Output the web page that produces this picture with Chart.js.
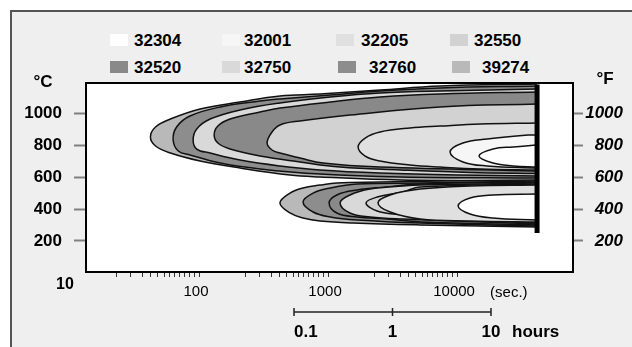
<!DOCTYPE html>
<html>
<head>
<meta charset="utf-8">
<script src="https://cdn.jsdelivr.net/npm/chart.js@4.4.1/dist/chart.umd.min.js"></script>
<style>
  html, body { margin: 0; padding: 0; background: #fff; }
  body { width: 632px; height: 347px; position: relative; overflow: hidden; font-family: 'Liberation Sans', Arial, sans-serif; }
  #frame { position: absolute; left: 10px; top: 10px; width: 640px; height: 360px; background: #efefef; border-left: 2px solid #555; border-top: 2px solid #555; }
  #wrap { position: absolute; left: 0; top: 0; width: 632px; height: 347px; }
  .sw { position: absolute; width: 18px; height: 12px; }
  .lg { position: absolute; font-weight: bold; font-size: 17px; line-height: 17px; color: #000; }
</style>
</head>
<body>
<div id="frame"></div>
<div id="legend"></div>
<div id="wrap"><canvas id="ttt"></canvas></div>
<script>
// steel grades and the grey used for each
const grades = ['32304', '32001', '32205', '32550', '32520', '32750', '32760', '39274'];
const gradeColors = ['#ffffff', '#f6f6f6', '#e0e0e0', '#d2d2d2', '#898989', '#d9d9d9', '#8d8d8d', '#b9b9b9'];

const tempTicks = [200, 400, 600, 800, 1000];   // same marks on the °C and °F side
const secTicks = [100, 1000, 10000];
const hourTicks = ['0.1', '1', '10'];

// C-curves, [time in s, temperature in °C], from the top end round the nose to the bottom end
const up39274 = [[41700,1184],[7380,1171],[2530,1146],[866,1121],[424,1109],[208,1071],[102,1027],[60,964],[46,914],[42,851],[46,795],[60,751],[102,701],[208,657],[507,613],[866,601],[3620,582],[41700,576]];
const up32760 = [[41700,1171],[7380,1159],[2530,1140],[1040,1115],[424,1090],[297,1077],[146,1040],[85,983],[67,914],[63,833],[69,764],[85,739],[146,688],[297,651],[866,619],[3620,601],[41700,594]];
const up32750 = [[41700,1152],[7380,1140],[2530,1127],[1040,1102],[424,1065],[208,1021],[122,964],[96,902],[90,833],[96,776],[122,751],[208,707],[424,670],[866,645],[2530,626],[10500,613],[41700,607]];
const up32520 = [[41700,1134],[7380,1121],[2530,1102],[1040,1071],[424,1033],[297,1008],[174,964],[140,920],[131,864],[140,814],[174,776],[297,732],[606,695],[1240,663],[3620,645],[12600,629],[41700,622]];
const up32550 = [[41700,1058],[7380,1040],[1480,989],[606,952],[424,927],[368,883],[337,814],[368,770],[424,751],[606,720],[915,688],[2530,663],[41700,638]];
const up32205 = [[41700,939],[15100,933],[7380,920],[4320,908],[2530,883],[1940,845],[1710,789],[1940,732],[2530,701],[4320,676],[7380,663],[15100,651],[41700,645]];
const up32001 = [[41700,864],[35500,864],[17100,839],[11100,814],[8830,757],[11100,695],[17100,670],[41700,657]];
const up32304 = [[41700,801],[27200,789],[19000,776],[14800,732],[19000,688],[27200,670],[41700,663]];

const lo39274 = [[41700,582],[7380,576],[2530,569],[1170,563],[866,550],[640,532],[507,500],[424,438],[507,375],[640,344],[866,325],[1560,312],[5170,300],[41700,287]];
const lo32760 = [[41700,576],[5170,563],[1680,557],[1040,532],[766,500],[640,444],[766,381],[1040,350],[1680,331],[5170,312],[41700,293]];
const lo32520 = [[41700,569],[5170,557],[2870,538],[1680,519],[1170,488],[1020,438],[1170,375],[1680,350],[2870,337],[5170,319],[41700,300]];
const lo32750 = [[41700,563],[5170,550],[3810,544],[2120,525],[1480,488],[1240,438],[1480,375],[2120,350],[3810,337],[41700,306]];
const lo32550 = [[41700,557],[5170,538],[3810,507],[2400,475],[1970,438],[2400,388],[3810,362],[5170,344],[41700,312]];
const lo32205 = [[41700,550],[12600,544],[5170,525],[3030,488],[2440,438],[3030,381],[5170,337],[12600,325],[41700,319]];
const lo32304 = [[41700,494],[19000,488],[12600,469],[10200,419],[12600,369],[19000,344],[41700,331]];

// end of the test (thick bar)
const endLine = [[41700,1180],[41700,250]];

const curves = [
  ['39274', up39274], ['32760', up32760], ['32750', up32750], ['32520', up32520],
  ['32550', up32550], ['32205', up32205], ['32001', up32001], ['32304', up32304],
  ['39274', lo39274], ['32760', lo32760], ['32520', lo32520], ['32750', lo32750],
  ['32550', lo32550], ['32205', lo32205], ['32304', lo32304]
];

// minor marks inside each decade of the time axis (as drawn on the original)
const decadeMarks = [0.36, 0.47, 0.56, 0.62, 0.675, 0.73, 0.77, 0.81, 0.85, 0.89, 0.925, 0.965, 1];
const timeMarks = [];
[1, 2, 3].forEach(d => decadeMarks.forEach(f => timeMarks.push(Math.pow(10, d + f))));

// legend layout: swatch x, text x, row centre y
const legendSlots = [[110,134,40],[222,244,40],[336,361,40],[450,474,40],
                     [110,134,67],[222,244,67],[338,369,67],[452,482,67]];
const legend = document.getElementById('legend');
grades.forEach((g, i) => {
  const [sx, tx, cy] = legendSlots[i];
  const sw = document.createElement('div');
  sw.className = 'sw';
  sw.style.left = sx + 'px';
  sw.style.top = (cy - 6) + 'px';
  sw.style.background = gradeColors[i];
  const t = document.createElement('div');
  t.className = 'lg';
  t.style.left = tx + 'px';
  t.style.top = (cy - 8) + 'px';
  t.textContent = g;
  legend.appendChild(sw);
  legend.appendChild(t);
});

const datasets = curves.map(([g, pts], i) => ({
  label: g,
  data: pts.map(([x, y]) => ({x, y})),
  showLine: true,
  fill: 'shape',
  backgroundColor: gradeColors[grades.indexOf(g)],
  borderColor: '#111',
  borderWidth: 1.5,
  pointRadius: 0,
  tension: 0.4,
  order: curves.length + 1 - i
}));
datasets.push({
  label: 'end',
  data: endLine.map(([x, y]) => ({x, y})),
  showLine: true,
  fill: false,
  borderColor: '#000',
  borderWidth: 5,
  pointRadius: 0,
  order: 0
});

const frameAndNotes = {
  id: 'frameAndNotes',
  beforeDraw(chart) {
    const {ctx, chartArea: a} = chart;
    ctx.save();
    ctx.fillStyle = '#fff';
    ctx.fillRect(a.left, a.top, a.width, a.height);
    ctx.restore();
  },
  afterDraw(chart) {
    const {ctx, chartArea: a} = chart;
    const xs = chart.scales.x;
    ctx.save();
    ctx.strokeStyle = '#000';
    ctx.lineWidth = 2;
    ctx.strokeRect(a.left, a.top, a.width, a.height);

    ctx.fillStyle = '#000';
    ctx.textBaseline = 'middle';
    ctx.textAlign = 'center';
    ctx.font = 'bold 17px "Liberation Sans"';
    ctx.fillText('°C', a.left - 43, a.top - 1);
    ctx.fillText('°F', a.right + 32, a.top - 4);

    ctx.font = 'bold 16px "Liberation Sans"';
    ctx.fillText('10', xs.getPixelForValue(10) - 5, a.bottom + 13);

    ctx.textAlign = 'left';
    ctx.font = '15px "Liberation Sans"';
    ctx.fillText('(sec.)', xs.getPixelForValue(10000) + 33, a.bottom + 21);

    // hours bar
    const hx0 = a.left + 208, hstep = 98.5, hy = a.bottom + 40;
    ctx.strokeStyle = '#222';
    ctx.lineWidth = 1.5;
    ctx.beginPath();
    ctx.moveTo(hx0, hy);
    ctx.lineTo(hx0 + hstep * (hourTicks.length - 1), hy);
    hourTicks.forEach((h, i) => {
      ctx.moveTo(hx0 + hstep * i, hy - 4);
      ctx.lineTo(hx0 + hstep * i, hy + 4);
    });
    ctx.stroke();
    ctx.font = 'bold 17px "Liberation Sans"';
    hourTicks.forEach((h, i) => {
      ctx.textAlign = i === 0 ? 'left' : 'center';
      ctx.fillText(h, hx0 + hstep * i, hy + 20);
    });
    ctx.textAlign = 'left';
    ctx.fillText('hours', hx0 + hstep * 2 + 21, hy + 20);
    ctx.restore();
  }
};

const tempAxis = (pos) => ({
  type: 'linear',
  position: pos,
  min: 5,
  max: 1190,
  bounds: 'data',
  afterFit: s => { s.width = pos === 'left' ? 86 : 50; },
  afterBuildTicks: s => { s.ticks = tempTicks.map(v => ({value: v})); },
  grid: { drawOnChartArea: false, tickLength: pos === 'left' ? 12 : 10, tickColor: '#808080', tickWidth: 2 },
  border: { display: false },
  ticks: pos === 'left'
    ? { padding: 12, color: '#000', font: { size: 17, weight: 'bold' }, callback: v => String(v) }
    : { padding: 1, crossAlign: 'far', color: '#000', font: { size: 17, weight: 'bold', style: 'italic' }, callback: v => String(v) }
});

Chart.defaults.font.family = '"Liberation Sans", Arial, sans-serif';

new Chart(document.getElementById('ttt'), {
  type: 'scatter',
  data: { datasets },
  options: {
    responsive: true,
    maintainAspectRatio: false,
    animation: false,
    events: [],
    layout: { padding: { top: 83, left: 0, right: 9, bottom: 0 } },
    scales: {
      x: {
        type: 'logarithmic',
        min: 13.3,
        max: 79200,
        bounds: 'data',
        afterFit: s => { s.height = 75; },
        afterBuildTicks: s => { s.ticks = timeMarks.map(v => ({value: v})); },
        grid: { drawOnChartArea: false, tickLength: 5, tickColor: '#333', tickWidth: 1 },
        border: { display: false },
        ticks: {
          autoSkip: false,
          maxRotation: 0,
          padding: 6,
          labelOffset: -3,
          color: '#000',
          font: { size: 15 },
          callback: v => secTicks.find(s => Math.abs(s - v) < 1e-6) ? String(Math.round(v)) : ''
        }
      },
      y: tempAxis('left'),
      y2: tempAxis('right')
    },
    plugins: {
      legend: { display: false },
      tooltip: { enabled: false }
    }
  },
  plugins: [frameAndNotes]
});
</script>
</body>
</html>
